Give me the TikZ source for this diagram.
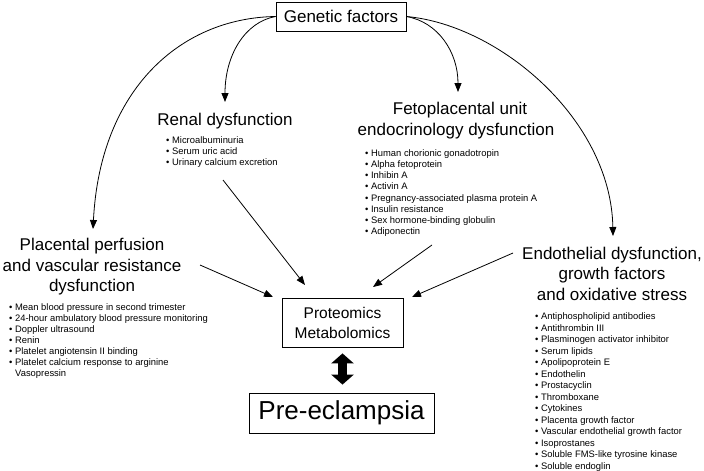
\documentclass[tikz,border=0pt]{standalone}
\usepackage{fontspec}
\setmainfont{Liberation Sans}
\usetikzlibrary{arrows.meta,calc}
\begin{document}
\begin{tikzpicture}[x=1pt,y=-1pt,
  box/.style={draw=black, line width=0.8pt, inner sep=0pt, align=center},
  head/.style={anchor=base, inner sep=0pt, font=\fontsize{17}{20}\selectfont},
  item/.style={anchor=base west, inner sep=0pt, font=\fontsize{9.4}{11}\selectfont},
  arc/.style={line width=0.8pt, -{Triangle[length=9pt,width=7pt]}},
]
\useasboundingbox (0,0) rectangle (704,471);

% boxes
\node[box, minimum width=130pt, minimum height=29pt, font=\fontsize{17}{20}\selectfont] (gen) at (341,16.5) {Genetic factors};
\node[box, minimum width=121pt, minimum height=49pt, font=\fontsize{15.5}{20}\selectfont] (prot) at (342.5,322.5) {Proteomics\\Metabolomics};
\node[box, minimum width=185pt, minimum height=40pt, font=\fontsize{26}{30}\selectfont] (pre) at (341.5,413) {Pre-eclampsia};

% headings
\node[head] (renal) at (225,125) {Renal dysfunction};
\node[head] (feto1) at (460,114) {Fetoplacental unit};
\node[head] (feto2) at (456,135) {endocrinology dysfunction};
\node[head] (plac1) at (92,250) {Placental perfusion};
\node[head] (plac2) at (92,271) {and vascular resistance};
\node[head] (plac3) at (92,291) {dysfunction};
\node[head] (endo1) at (612,259) {Endothelial dysfunction,};
\node[head] (endo2) at (612,279.5) {growth factors};
\node[head] (endo3) at (612,300.5) {and oxidative stress};

% bullet lists
\foreach \t [count=\i from 0] in {Microalbuminuria,Serum uric acid,Urinary calcium excretion}
  \node[item] (renal-\i) at (166,143.5+11*\i) {• \t};
\foreach \t [count=\i from 0] in {Human chorionic gonadotropin,Alpha fetoprotein,Inhibin A,Activin A,Pregnancy-associated plasma protein A,Insulin resistance,Sex hormone-binding globulin,Adiponectin}
  \node[item] (feto-\i) at (365,156.5+11.14*\i) {• \t};
\foreach \t [count=\i from 0] in {Mean blood pressure in second trimester,24-hour ambulatory blood pressure monitoring,Doppler ultrasound,Renin,Platelet angiotensin II binding,Platelet calcium response to arginine}
  \node[item] (plac-\i) at (9,310.5+11*\i) {• \t};
\node[item] (plac-6) at (15,376.5) {Vasopressin};
\foreach \t [count=\i from 0] in {Antiphospholipid antibodies,Antithrombin III,Plasminogen activator inhibitor,Serum lipids,Apolipoprotein E,Endothelin,Prostacyclin,Thromboxane,Cytokines,Placenta growth factor,Vascular endothelial growth factor,Isoprostanes,Soluble FMS-like tyrosine kinase,Soluble endoglin}
  \node[item] (endo-\i) at (535,319.5+11.5*\i) {• \t};

% arrow end points
\coordinate (plactip) at (93,229);
\coordinate (renaltip) at (225,102);
\coordinate (fetotip) at (458,92);
\coordinate (endotip) at (613,236);

% arcs from genetic factors
\draw[arc] (gen.west) .. controls (180,18) and (100,90) .. (plactip);
\draw[arc] (gen.west) .. controls (245,22) and (225,55) .. (renaltip);
\draw[arc] (gen.east) .. controls (438,22) and (458,52) .. (fetotip);
\draw[arc] (gen.east) .. controls (500,25) and (611,120) .. (endotip);

% straight arrows to proteomics
\coordinate (placs) at (200,265);
\coordinate (renals) at (223,180);
\coordinate (fetos) at (432,245);
\coordinate (endos) at (513,253);
\coordinate (placin) at (273,297);
\coordinate (renalin) at (305,285);
\coordinate (fetoin) at (373,287);
\coordinate (endoin) at (412,297);
\draw[arc] (placs) -- (placin);
\draw[arc] (renals) -- (renalin);
\draw[arc] (fetos) -- (fetoin);
\draw[arc] (endos) -- (endoin);

% double arrow
\draw[line width=9pt, {Triangle[length=10pt,width=22pt]}-{Triangle[length=10pt,width=22pt]}, shorten <=6pt, shorten >=8pt] (prot.south) -- (prot.south |- pre.north);
\end{tikzpicture}
\end{document}
